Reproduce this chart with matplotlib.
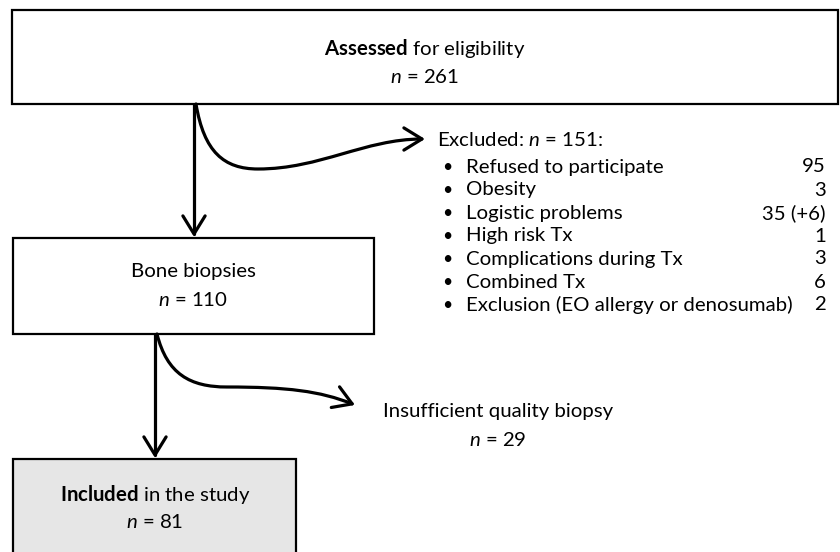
import numpy as np
import matplotlib.pyplot as plt
from matplotlib.patches import Rectangle, FancyArrowPatch
from matplotlib.path import Path

plt.rcParams['font.family'] = ['Lato', 'DejaVu Sans']
plt.rcParams['mathtext.fontset'] = 'custom'
plt.rcParams['mathtext.rm'] = 'Lato'
plt.rcParams['mathtext.it'] = 'Lato:italic'
plt.rcParams['mathtext.bf'] = 'Lato:bold'

# Flow numbers
n_assessed = 261
n_excluded = 151
n_biopsies = 110
n_poor_quality = 29
n_included = 81

# Exclusion reasons and counts
excl_reasons = [
    "Refused to participate",
    "Obesity",
    "Logistic problems",
    "High risk Tx",
    "Complications during Tx",
    "Combined Tx",
    "Exclusion (EO allergy or denosumab)",
]
excl_counts = ["95", "3", "35 (+6)", "1", "3", "6", "2"]

W, H = 840, 552
fig = plt.figure(figsize=(W / 100, H / 100), dpi=100)
ax = fig.add_axes([0, 0, 1, 1])
ax.set_xlim(0, W)
ax.set_ylim(H, 0)
ax.axis('off')

fs = 14.7

def box(x0, y0, x1, y1, fc='white'):
    ax.add_patch(Rectangle((x0, y0), x1 - x0, y1 - y0, fc=fc, ec='black', lw=1.6))

def arrow(verts, codes):
    p = FancyArrowPatch(path=Path(verts, codes),
                        arrowstyle='->,head_length=13,head_width=8',
                        mutation_scale=1, lw=2.3, color='black',
                        transform=ax.transData)
    ax.add_patch(p)

# Boxes
box(12, 10, 838, 104)
box(13, 238, 374, 334)
box(13, 459, 296, 560, fc='#e6e6e6')

# Box text
ax.text(425, 48, r'$\mathbf{Assessed}$ for eligibility', ha='center', va='center', fontsize=fs)
ax.text(425, 77, r'$\mathit{n}$ = %d' % n_assessed, ha='center', va='center', fontsize=fs)
ax.text(193, 272, 'Bone biopsies', ha='center', va='center', fontsize=fs)
ax.text(193, 300, r'$\mathit{n}$ = %d' % n_biopsies, ha='center', va='center', fontsize=fs)
ax.text(155, 494, r'$\mathbf{Included}$ in the study', ha='center', va='center', fontsize=fs)
ax.text(155, 522, r'$\mathit{n}$ = %d' % n_included, ha='center', va='center', fontsize=fs)

# Straight arrows
M, C, L = Path.MOVETO, Path.CURVE4, Path.LINETO
arrow([(194, 104), (194, 237)], [M, L])
arrow([(155, 334), (155, 458)], [M, L])

# Curved arrows
arrow([(196, 104), (204, 152), (224, 169), (258, 169),
       (320, 169), (365, 139), (425, 139)],
      [M, C, C, C, C, C, C])
arrow([(157, 334), (167, 374), (190, 387), (227, 387),
       (287, 387), (320, 391), (355, 405)],
      [M, C, C, C, C, C, C])

# Exclusion list
ax.text(437, 140, r'Excluded: $\mathit{n}$ = %d:' % n_excluded, ha='left', va='center', fontsize=fs)
for i, (r, c) in enumerate(zip(excl_reasons, excl_counts)):
    y = 167 + 23 * i
    ax.text(447, y, u'\u2022', ha='center', va='center', fontsize=fs - 2)
    ax.text(466, y, r, ha='left', va='center', fontsize=fs)
    ax.text(826, y, c, ha='right', va='center', fontsize=fs)

ax.text(498, 412, 'Insufficient quality biopsy', ha='center', va='center', fontsize=fs)
ax.text(498, 440, r'$\mathit{n}$ = %d' % n_poor_quality, ha='center', va='center', fontsize=fs)

fig.savefig('out.png', dpi=100)
